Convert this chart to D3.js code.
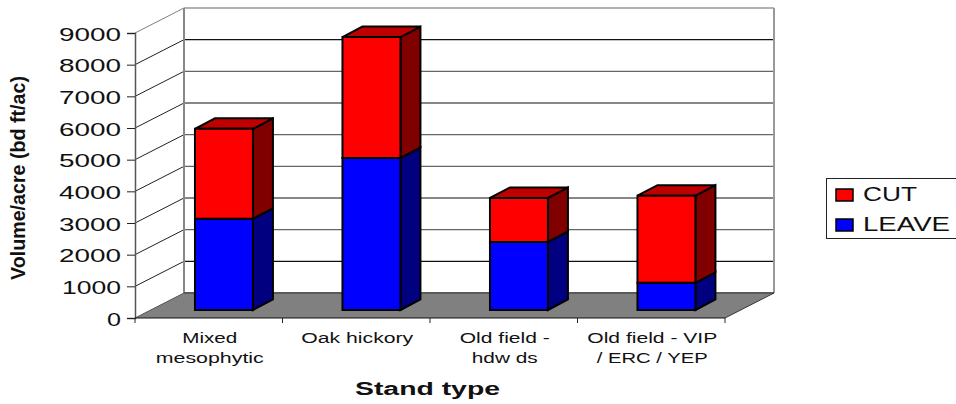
<!DOCTYPE html>
<html>
<head>
<meta charset="utf-8">
<script src="https://cdn.jsdelivr.net/npm/d3@7"></script>
<style>
html, body { margin: 0; padding: 0; background: #fff; overflow: hidden; }
svg { display: block; }
text { font-family: "Liberation Sans", Arial, sans-serif; fill: #111; }
</style>
</head>
<body>
<div id="chart"></div>
<script>
// stacked 3d columns, volume per acre by stand type
var categories = ["Mixed mesophytic", "Oak hickory", "Old field - hdw ds", "Old field - VIP / ERC / YEP"]
var categoryLines = [["Mixed", "mesophytic"], ["Oak hickory"], ["Old field -", "hdw ds"], ["Old field - VIP", "/ ERC / YEP"]]
var leaveValues = [2880, 4800, 2150, 860]
var cutValues = [2840, 3820, 1390, 2750]
var yTicks = [0, 1000, 2000, 3000, 4000, 5000, 6000, 7000, 8000, 9000]
var legendNames = ["CUT", "LEAVE"]

var width = 956, height = 404

// front plane of the plot, the back wall is pushed by wallDx / wallDy
var plot = {left: 135, right: 725, top: 33, bottom: 318}
var wallDx = 49, wallDy = -25
// bars sit part way into the floor
var barDx = 15.2, barDy = -8
var sideDx = 20, sideDy = -10.5

// the labels are stretched wide in the original, widths in px per line
var lineWidths = [[55, 108], [112], [90, 66], [130, 111]]

var red = {front: "#ff0000", top: "#bf0000", side: "#800000"}
var blue = {front: "#0000ff", top: "#0000bf", side: "#000080"}

var svg = d3.select("#chart").append("svg")
  .attr("width", width)
  .attr("height", height)

var y = d3.scaleLinear().domain([0, 9000]).range([plot.bottom, plot.top])

var x = d3.scaleBand()
  .domain(categories)
  .range([plot.left, plot.right])
  .paddingInner(0.607)
  .paddingOuter(0.3035)

var step = x.step()

function poly(points, fill, stroke, sw) {
  return svg.append("polygon")
    .attr("points", points.map(function(p) { return p.join(","); }).join(" "))
    .attr("fill", fill)
    .attr("stroke", stroke)
    .attr("stroke-width", sw)
    .attr("stroke-linejoin", "miter")
}

// floor
poly([[plot.left, plot.bottom], [plot.left + wallDx, plot.bottom + wallDy],
      [plot.right + wallDx, plot.bottom + wallDy], [plot.right, plot.bottom]], "#808080", "none", 0)

// gridlines on the side wall and back wall
yTicks.slice(1).forEach(function(d) {
  var c = d == 9000 ? "#808080" : "#222"
  svg.append("line")
    .attr("x1", plot.left).attr("y1", y(d))
    .attr("x2", plot.left + wallDx).attr("y2", y(d) + wallDy)
    .attr("stroke", c).attr("stroke-width", 1)
  svg.append("line")
    .attr("x1", plot.left + wallDx).attr("y1", y(d) + wallDy)
    .attr("x2", plot.right + wallDx).attr("y2", y(d) + wallDy)
    .attr("stroke", d == 9000 ? "#999" : (d == 7000 || d == 5000 || d == 4000 || d == 2000 ? "#666" : "#111"))
    .attr("stroke-width", d == 9000 ? 1.5 : 1.2)
})

// back wall verticals
svg.append("line")
  .attr("x1", plot.left + wallDx).attr("y1", y(9000) + wallDy)
  .attr("x2", plot.left + wallDx).attr("y2", y(0) + wallDy)
  .attr("stroke", "#888").attr("stroke-width", 2)
svg.append("line")
  .attr("x1", plot.right + wallDx).attr("y1", y(9000) + wallDy)
  .attr("x2", plot.right + wallDx).attr("y2", y(0) + wallDy)
  .attr("stroke", "#999").attr("stroke-width", 2)

// floor back edge + right edge
svg.append("line")
  .attr("x1", plot.left + wallDx).attr("y1", y(0) + wallDy)
  .attr("x2", plot.right + wallDx).attr("y2", y(0) + wallDy)
  .attr("stroke", "#5a5a5a").attr("stroke-width", 2)
svg.append("line")
  .attr("x1", plot.right).attr("y1", y(0))
  .attr("x2", plot.right + wallDx).attr("y2", y(0) + wallDy)
  .attr("stroke", "#333").attr("stroke-width", 1)
svg.append("line")
  .attr("x1", plot.left).attr("y1", y(0))
  .attr("x2", plot.left + wallDx).attr("y2", y(0) + wallDy)
  .attr("stroke", "#555").attr("stroke-width", 1)

// one box of a stack
function box(cat, v0, v1, colors, withTop) {
  var x0 = x(cat) + barDx, x1 = x0 + x.bandwidth()
  var yb = y(v0) + barDy, yt = y(v1) + barDy
  poly([[x1, yb], [x1 + sideDx, yb + sideDy], [x1 + sideDx, yt + sideDy], [x1, yt]], colors.side, "#000", 2)
  if (withTop) {
    poly([[x0, yt], [x0 + sideDx, yt + sideDy], [x1 + sideDx, yt + sideDy], [x1, yt]], colors.top, "#000", 2)
  }
  poly([[x0, yb], [x1, yb], [x1, yt], [x0, yt]], colors.front, "#000", 2)
}

categories.forEach(function(c, i) {
  box(c, 0, leaveValues[i], blue, false)
  box(c, leaveValues[i], leaveValues[i] + cutValues[i], red, true)
})

// y axis
var yAxis = svg.append("g")
  .attr("transform", "translate(" + plot.left + ",0)")
  .call(d3.axisLeft(y).tickValues(yTicks).tickFormat(d3.format("d")).tickSize(8).tickPadding(6))

yAxis.select(".domain").attr("stroke", "#555").attr("stroke-width", 1.5)
yAxis.selectAll(".tick line").attr("stroke", "#222")
yAxis.selectAll(".tick text")
  .attr("font-size", 19)
  .attr("font-family", "Liberation Sans")
  .attr("fill", "#111")
  .attr("text-anchor", "start")
  .attr("dy", "0.38em")
  .attr("x", function(d) { return d == 0 ? -28 : (d == 1000 ? -73 : -76) })
  .attr("textLength", function(d) { return d == 0 ? 14 : (d == 1000 ? 59 : 62) })
  .attr("lengthAdjust", "spacingAndGlyphs")

// x axis, ticks fall between the categories
var tickEdges = d3.range(categories.length + 1).map(function(i) { return plot.left + i * step })
svg.append("line")
  .attr("x1", plot.left).attr("y1", plot.bottom)
  .attr("x2", plot.right).attr("y2", plot.bottom)
  .attr("stroke", "#111").attr("stroke-width", 1.2)
svg.selectAll(".xtick")
  .data(tickEdges)
  .enter()
  .append("line")
  .attr("class", "xtick")
  .attr("x1", function(d) { return d })
  .attr("x2", function(d) { return d })
  .attr("y1", plot.bottom)
  .attr("y2", plot.bottom + 5)
  .attr("stroke", "#222")

// category labels
categories.forEach(function(c, i) {
  var cx = x(c) + x.bandwidth() / 2 + 1
  categoryLines[i].forEach(function(line, j) {
    svg.append("text")
      .attr("x", cx)
      .attr("y", 342.5 + j * 20.5)
      .attr("text-anchor", "middle")
      .attr("font-size", 15.5)
      .attr("fill", "#222")
      .attr("textLength", lineWidths[i][j])
      .attr("lengthAdjust", "spacingAndGlyphs")
      .text(line)
  })
})

// axis titles
svg.append("text")
  .attr("x", 427.5)
  .attr("y", 395)
  .attr("text-anchor", "middle")
  .attr("font-size", 18)
  .attr("font-weight", "bold")
  .attr("textLength", 145)
  .attr("lengthAdjust", "spacingAndGlyphs")
  .text("Stand type")

svg.append("text")
  .attr("transform", "translate(25,178) rotate(-90)")
  .attr("text-anchor", "middle")
  .attr("font-size", 20)
  .attr("font-weight", "bold")
  .attr("textLength", 204)
  .attr("lengthAdjust", "spacingAndGlyphs")
  .text("Volume/acre (bd ft/ac)")

// legend, right edge runs off the picture
svg.append("rect")
  .attr("x", 826.5).attr("y", 178.5)
  .attr("width", 140).attr("height", 60)
  .attr("fill", "#fff").attr("stroke", "#222")

legendNames.forEach(function(name, i) {
  var ly = 189 + i * 30
  svg.append("rect")
    .attr("x", 836).attr("y", ly)
    .attr("width", 17).attr("height", 12)
    .attr("fill", i == 0 ? red.front : blue.front)
    .attr("stroke", "#000").attr("stroke-width", 1.5)
  svg.append("text")
    .attr("x", 863).attr("y", ly + 12)
    .attr("font-size", 20)
    .attr("textLength", i == 0 ? 54 : 87)
    .attr("lengthAdjust", "spacingAndGlyphs")
    .text(name)
})
</script>
</body>
</html>
